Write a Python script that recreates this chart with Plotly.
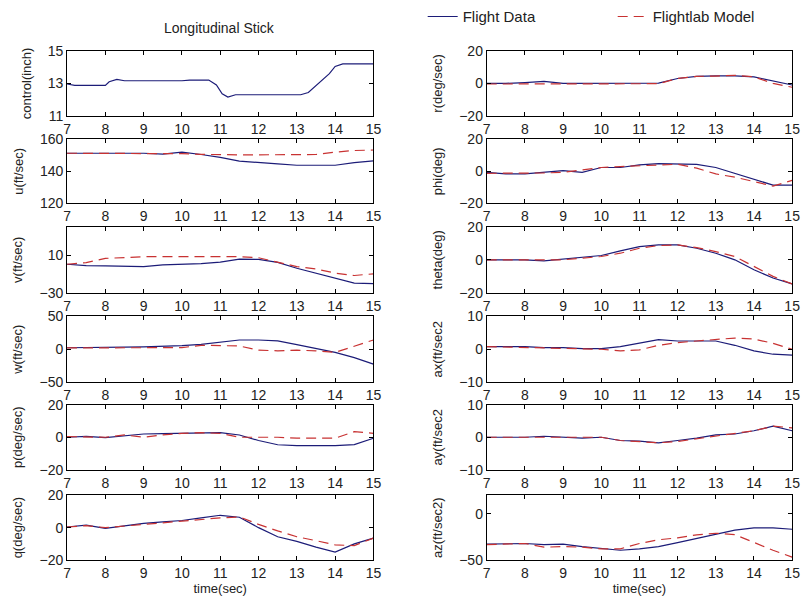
import plotly.graph_objects as go
from plotly.subplots import make_subplots

# time grid (sec)
t = [7, 7.5, 8, 8.5, 9, 9.5, 10, 10.5, 11, 11.5, 12, 12.5, 13, 13.5, 14, 14.5, 15]

# longitudinal stick, finer samples
t_ctrl = [7, 7.2, 8.0, 8.1, 8.3, 8.5, 10.0, 10.2, 10.7, 10.9, 11.05, 11.2, 11.4,
          13.1, 13.3, 13.6, 13.85, 14.0, 14.2, 15]
ctrl_fd = [12.96, 12.88, 12.88, 13.1, 13.24, 13.16, 13.16, 13.2, 13.2, 12.9, 12.36,
           12.16, 12.3, 12.3, 12.44, 13.04, 13.6, 14.04, 14.2, 14.2]

u_fd = [151.3, 151.3, 151.3, 151.3, 151.3, 150.7, 152, 150.5, 148.7, 146.4, 145.3,
        144.6, 143.8, 143.8, 143.8, 145.5, 146.5]
u_model = [151.3, 151.3, 151.3, 151.3, 151.3, 151.3, 151, 150.6, 150.3, 150.3, 150.3,
           150.3, 150.3, 150.5, 152, 153, 153.3]

v_fd = [0.3, -1.1, -1.5, -2.2, -2.2, -0.4, 0, 1, 2.5, 5.8, 5.5, 2.3, -3.9, -9.1,
        -14.3, -19.6, -20.3]
v_model = [0.3, 2, 6.5, 7.5, 8.3, 8.3, 8.3, 8.3, 8.3, 8.3, 7.2, 2.3, -2.2, -4.6,
           -9.1, -11.6, -9.8]

w_fd = [2.3, 2.3, 2.8, 3.2, 3.7, 4.5, 5.6, 7.5, 10.7, 14, 14, 12.6, 7, 1, -4.7,
        -12.6, -22.4]
w_model = [2, 2, 2, 2, 2, 2, 2.5, 6, 6, 5, -1.4, -2.3, -1.4, -2.3, -4.7, 4.7, 14]

p_fd = [0, 0.5, -0.2, 1, 2, 2.2, 2.4, 2.6, 2.8, 1.4, -2, -4.6, -5.2, -5.2, -5.2,
        -4.5, -0.6]
p_model = [0.4, 0.2, 0, 1.4, 0, 1.4, 2.4, 2.8, 2.4, 0, 0, 0, -0.6, -0.6, -0.6,
           3.4, 2.4]

q_fd = [0.4, 1.6, -0.4, 1, 2.6, 3.5, 4.4, 6, 7.6, 6.4, 0, -5.6, -8.4, -12, -15,
        -10, -6.4]
q_model = [0.4, 1.2, 0, 1, 2.4, 3.2, 4, 5, 6, 6.6, 2, -2, -5.6, -8, -10.6, -11,
           -6.4]

r_fd = [0, 0, 0.5, 1.2, 0, 0, 0, 0, 0, 0.2, 3, 4.3, 4.6, 4.6, 4, 1.6, -1]
r_model = [-0.4, -0.4, -0.4, -0.4, -0.4, -0.4, -0.4, -0.4, -0.4, -0.2, 3, 4.3, 4.5,
           4.9, 4, 0, -2.4]

phi_fd = [-0.6, -1.6, -1.6, -0.5, 0.5, -0.6, 2.4, 2.4, 4, 4.8, 4.8, 4.4, 2.4, -1.2,
          -4.6, -8.6, -8.6]
phi_model = [-1.2, -1.2, -1.2, -1, -0.6, 0.8, 2.4, 3, 3.4, 4, 4.4, 2, -1.6, -3.6,
             -6.6, -9.2, -5.6]

theta_fd = [0, 0, 0, -0.6, 0.6, 1.4, 2.6, 5.4, 8, 9, 9, 7, 4, 0, -6, -11, -14.6]
theta_model = [0, 0, 0, 0, 0, 1, 2, 4, 7, 8.6, 9, 7.4, 5, 2, -4, -10, -14.6]

ax_fd = [0.8, 0.8, 0.8, 0.5, 0.5, 0.2, 0.2, 0.8, 1.8, 2.9, 2.5, 2.5, 2.5, 1.2,
         -0.5, -1.5, -1.8]
ax_model = [0.8, 0.7, 0.6, 0.4, 0.2, 0.1, 0, -0.5, -0.2, 1.2, 2, 2.5, 2.9, 3.4,
            3.1, 1.8, 0]

ay_fd = [0, 0, 0, 0.3, 0, -0.3, 0, -1, -1.2, -1.7, -1, -0.3, 0.7, 1, 2, 3.4, 2]
ay_model = [0, 0, 0, 0, 0, 0, 0, -1, -1.3, -1.7, -1.3, -0.5, 0.5, 1.3, 2, 3.4, 2.9]

az_fd = [-32.7, -32.5, -32, -33.3, -32.7, -35.3, -37.7, -39.3, -37.7, -35.3, -31,
         -26.7, -22, -17.7, -15.3, -15.3, -16.7]
az_model = [-33.3, -33, -32, -36, -35.3, -36, -37.7, -37.7, -32, -28, -26, -22.7,
            -21, -22.5, -31, -39.3, -46.7]

# (row, col, ylabel, range, ticks, flight, model)
panels = [
    (1, 1, "control(inch)", [11, 15], [11, 13, 15], ctrl_fd, None),
    (2, 1, "u(ft/sec)", [120, 160], [120, 140, 160], u_fd, u_model),
    (3, 1, "v(ft/sec)", [-30, 40], [-30, 10], v_fd, v_model),
    (4, 1, "w(ft/sec)", [-50, 50], [-50, 0, 50], w_fd, w_model),
    (5, 1, "p(deg/sec)", [-20, 20], [-20, 0, 20], p_fd, p_model),
    (6, 1, "q(deg/sec)", [-20, 20], [-20, 0, 20], q_fd, q_model),
    (1, 2, "r(deg/sec)", [-20, 20], [-20, 0, 20], r_fd, r_model),
    (2, 2, "phi(deg)", [-20, 20], [-20, 0, 20], phi_fd, phi_model),
    (3, 2, "theta(deg)", [-20, 20], [-20, 0, 20], theta_fd, theta_model),
    (4, 2, "ax(ft/sec2", [-10, 10], [-10, 0, 10], ax_fd, ax_model),
    (5, 2, "ay(ft/sec2", [-10, 10], [-10, 0, 10], ay_fd, ay_model),
    (6, 2, "az(ft/sec2)", [-50, 20], [-50, 0], az_fd, az_model),
]

W, H = 808, 611
row_px = [(43, 110), (134, 200), (224, 292), (316, 384), (407, 474), (500, 567)]
col_px = [(64, 375), (490, 800)]

NAVY = "#1c1c78"
RED = "#c83232"
FONT = "Liberation Sans, Arial, sans-serif"

fig = make_subplots(rows=6, cols=2)

first = True
for row, col, label, yr, yt, fd, model in panels:
    tx = t_ctrl if model is None else t
    fig.add_trace(go.Scatter(x=tx, y=fd, mode="lines", name="Flight Data",
                             line=dict(color=NAVY, width=1.2),
                             showlegend=first, legendrank=1), row=row, col=col)
    if model is not None:
        fig.add_trace(go.Scatter(x=t, y=model, mode="lines", name="Flightlab Model",
                                 line=dict(color=RED, width=1.2, dash="10px,6px"),
                                 showlegend=(row == 2 and col == 1), legendrank=2),
                      row=row, col=col)
    first = False
    top, bot = row_px[row - 1]
    left, right = col_px[col - 1]
    fig.update_xaxes(domain=[left / W, right / W], range=[7, 15],
                     tickvals=[7, 8, 9, 10, 11, 12, 13, 14, 15],
                     title_text="time(sec)" if row == 6 else None,
                     title_standoff=2, row=row, col=col)
    fig.update_yaxes(domain=[1 - bot / H, 1 - top / H], range=yr, tickvals=yt,
                     title_text=label, title_standoff=13, row=row, col=col)

axis_style = dict(showline=True, linecolor="black", linewidth=1, mirror="ticks",
                  ticks="inside", ticklen=4, tickcolor="black", showgrid=False,
                  zeroline=False, ticklabeloverflow="allow",
                  tickfont=dict(size=14, color="#222"),
                  title_font=dict(size=13, color="#222"))
fig.update_xaxes(**axis_style)
fig.update_yaxes(**axis_style)

fig.add_annotation(text="Longitudinal Stick", xref="paper", yref="paper",
                   x=219 / W, y=1 - 20 / H, xanchor="center", yanchor="middle",
                   showarrow=False, font=dict(size=14, color="#222"))

fig.update_layout(
    width=W, height=H,
    margin=dict(l=0, r=0, t=0, b=0),
    paper_bgcolor="white", plot_bgcolor="white",
    font=dict(family=FONT, color="#222"),
    legend=dict(orientation="h", x=425 / W, y=1 + 9 / H, xanchor="left",
                yanchor="top", font=dict(size=15), entrywidth=145,
                bgcolor="rgba(0,0,0,0)"),
)

# drop the default page margin so the figure sits at the window origin
fig.write_html("out.html", config={"displayModeBar": False},
               post_script="document.body.style.margin='0';")
